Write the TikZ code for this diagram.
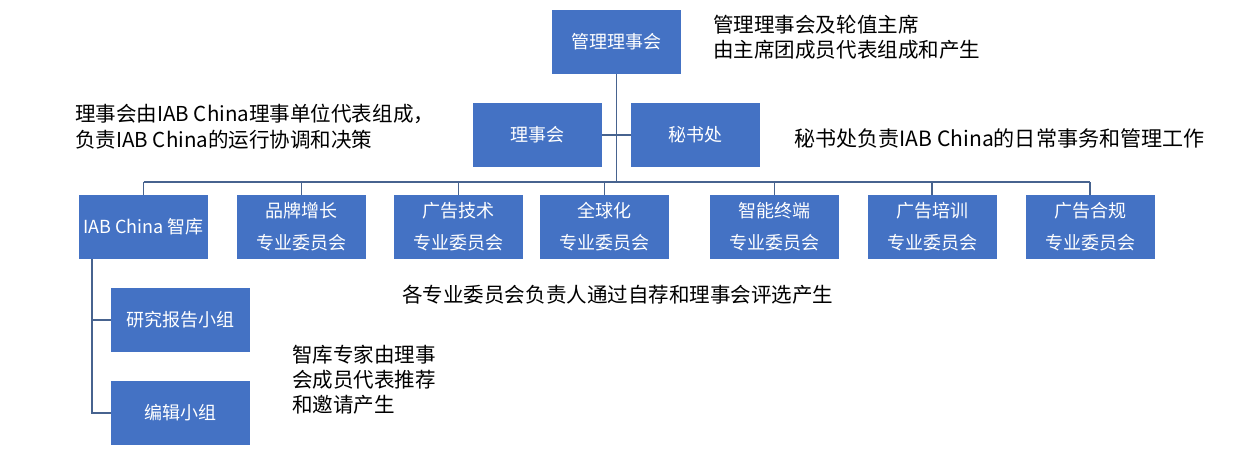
\documentclass[tikz,border=0pt]{standalone}
\usepackage{fontspec}
\setmainfont{Noto Sans CJK SC}
\definecolor{boxblue}{HTML}{4472C4}
\definecolor{linecol}{HTML}{47638F}
\begin{document}
\begin{tikzpicture}[x=0.75pt,y=-0.75pt,
  box/.style={draw=none,fill=boxblue,text=white,minimum width=96.75pt,minimum height=48pt,
    inner sep=0pt,align=center,font=\fontsize{13.5}{24}\selectfont},
  widebox/.style={box,minimum width=104.25pt},
  conn/.style={draw=linecol,line width=1.1pt},
  annot/.style={anchor=west,inner sep=0pt,align=left,text=black,font=\fontsize{15.4}{19}\selectfont}]
\useasboundingbox (0,0) rectangle (1239,449);
% nodes
\node[box] (top) at (616.5,42) {管理理事会};
\node[box] (lishi) at (537.5,135) {理事会};
\node[box] (mishu) at (695.5,135) {秘书处};
\node[box] (iab) at (143.5,227) {IAB China 智库};
\node[box] (pinpai) at (301.5,227) {品牌增长\\专业委员会};
\node[box] (jishu) at (458.5,227) {广告技术\\专业委员会};
\node[box] (quanqiu) at (604.5,227) {全球化\\专业委员会};
\node[box] (zhineng) at (774.5,227) {智能终端\\专业委员会};
\node[box] (peixun) at (932,227) {广告培训\\专业委员会};
\node[box] (hegui) at (1090,227) {广告合规\\专业委员会};
\node[widebox] (yanjiu) at (180.5,320) {研究报告小组};
\node[widebox] (bianji) at (180.5,413) {编辑小组};
% coordinates
\coordinate (busL) at (143.5,182);
\coordinate (busR) at (1090,182);
\coordinate (subx) at (92,259);
% connectors
\draw[conn] (top.south) -- (top.south |- busL);
\draw[conn] (lishi.east) -- (mishu.west);
\draw[conn] (busL) -- (busR);
\foreach \b in {iab,pinpai,jishu,quanqiu,zhineng,peixun,hegui}{
  \draw[conn] (\b.north) -- (\b.north |- busL);
}
\draw[conn] (subx) -- (subx |- bianji.west) -- (bianji.west);
\draw[conn] (subx |- yanjiu.west) -- (yanjiu.west);
% annotations
\node[annot,font=\fontsize{15.4}{18.75}\selectfont] (a1) at (713,37.5) {管理理事会及轮值主席\\由主席团成员代表组成和产生};
\node[annot,font=\fontsize{15.4}{19.5}\selectfont] (a2) at (75,126.5) {理事会由IAB China理事单位代表组成，\\负责IAB China的运行协调和决策};
\node[annot,font=\fontsize{15.8}{19}\selectfont] (a3) at (794,138) {秘书处负责IAB China的日常事务和管理工作};
\node[annot] (a4) at (402,295) {各专业委员会负责人通过自荐和理事会评选产生};
\node[annot,font=\fontsize{15.4}{18.75}\selectfont] (a5) at (292,380) {智库专家由理事\\会成员代表推荐\\和邀请产生};
\end{tikzpicture}
\end{document}
